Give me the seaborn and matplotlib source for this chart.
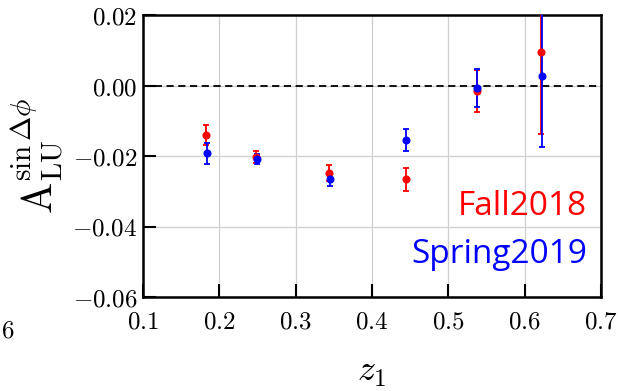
import matplotlib
matplotlib.use("Agg")
import matplotlib.pyplot as plt
import seaborn as sns
import pandas as pd
from matplotlib.ticker import FixedLocator, FuncFormatter

# Beam-spin asymmetry vs z1 for the two run periods
z1_fall = [0.183, 0.248, 0.344, 0.444, 0.537, 0.622]
A_fall = [-0.0140, -0.0203, -0.0248, -0.0266, -0.0016, 0.0094]
err_fall = [0.0028, 0.0016, 0.0022, 0.0032, 0.0060, 0.0231]

z1_spring = [0.184, 0.249, 0.345, 0.445, 0.538, 0.623]
A_spring = [-0.0192, -0.0208, -0.0266, -0.0155, -0.0008, 0.0026]
err_spring = [0.0030, 0.0014, 0.0018, 0.0031, 0.0054, 0.0200]

x_ticks = [0.1, 0.2, 0.3, 0.4, 0.5, 0.6, 0.7]
y_ticks = [-0.06, -0.04, -0.02, 0.00, 0.02]

series = [
    ("Fall2018", z1_fall, A_fall, err_fall, "#ff0000"),
    ("Spring2019", z1_spring, A_spring, err_spring, "#0000ff"),
]

sns.set_style("whitegrid")
plt.rcParams["mathtext.fontset"] = "cm"
plt.rcParams["font.family"] = ["DejaVu Sans"]

fig = plt.figure(figsize=(6.18, 3.91), dpi=100)
ax = fig.add_axes([143 / 618, 1 - 297 / 391, (601 - 143) / 618, (297 - 15) / 391])

for name, xs, ys, es, col in series:
    df = pd.DataFrame({"z1": xs, "A": ys, "err": es})
    ax.errorbar(df["z1"], df["A"], yerr=df["err"], fmt="none", ecolor=col,
                elinewidth=1.3, capsize=2.5, capthick=1.3, zorder=3)
    sns.scatterplot(data=df, x="z1", y="A", color=col, s=34, edgecolor=col,
                    linewidth=0, ax=ax, zorder=4, legend=False)

ax.axhline(0.0, color="black", linestyle=(0, (4, 2.5)), linewidth=1.3, zorder=2)

ax.set_xlim(0.1, 0.7)
ax.set_ylim(-0.06, 0.02)
ax.xaxis.set_major_locator(FixedLocator(x_ticks))
ax.yaxis.set_major_locator(FixedLocator(y_ticks))
ax.xaxis.set_major_formatter(FuncFormatter(lambda v, p: f"${v:.1f}$"))
ax.yaxis.set_major_formatter(FuncFormatter(lambda v, p: f"${v:.2f}$"))

ax.grid(True, color="#cfcfcf", linewidth=0.9)
for s in ax.spines.values():
    s.set_color("black")
    s.set_linewidth(1.8)

ax.tick_params(axis="both", which="major", direction="in", length=9.5, width=1.5,
               color="black", labelsize=18, labelcolor="black")
ax.tick_params(axis="y", pad=4, left=True, right=False)
ax.tick_params(axis="x", pad=9, bottom=True, top=False)

ax.set_xlabel(r"$z_1$", fontsize=26, color="black")
ax.set_ylabel(r"$\mathrm{A}_{\mathrm{LU}}^{\sin\Delta\phi}$", fontsize=30, color="black")
ax.xaxis.set_label_coords(0.5, -0.205)
ax.yaxis.set_label_coords(-0.168, 0.5)

ax.text(0.969, 0.291, "Fall2018", transform=ax.transAxes, ha="right", va="baseline",
        color="#ff0000", fontsize=24, family=["Open Sans", "DejaVu Sans"])
ax.text(0.969, 0.1206, "Spring2019", transform=ax.transAxes, ha="right", va="baseline",
        color="#0000ff", fontsize=24, family=["Open Sans", "DejaVu Sans"])

fig.text(0.002, 1 - 331 / 391, r"$6$", ha="left", va="center", fontsize=18, color="black")

fig.savefig("out.png", dpi=100, facecolor="white")
